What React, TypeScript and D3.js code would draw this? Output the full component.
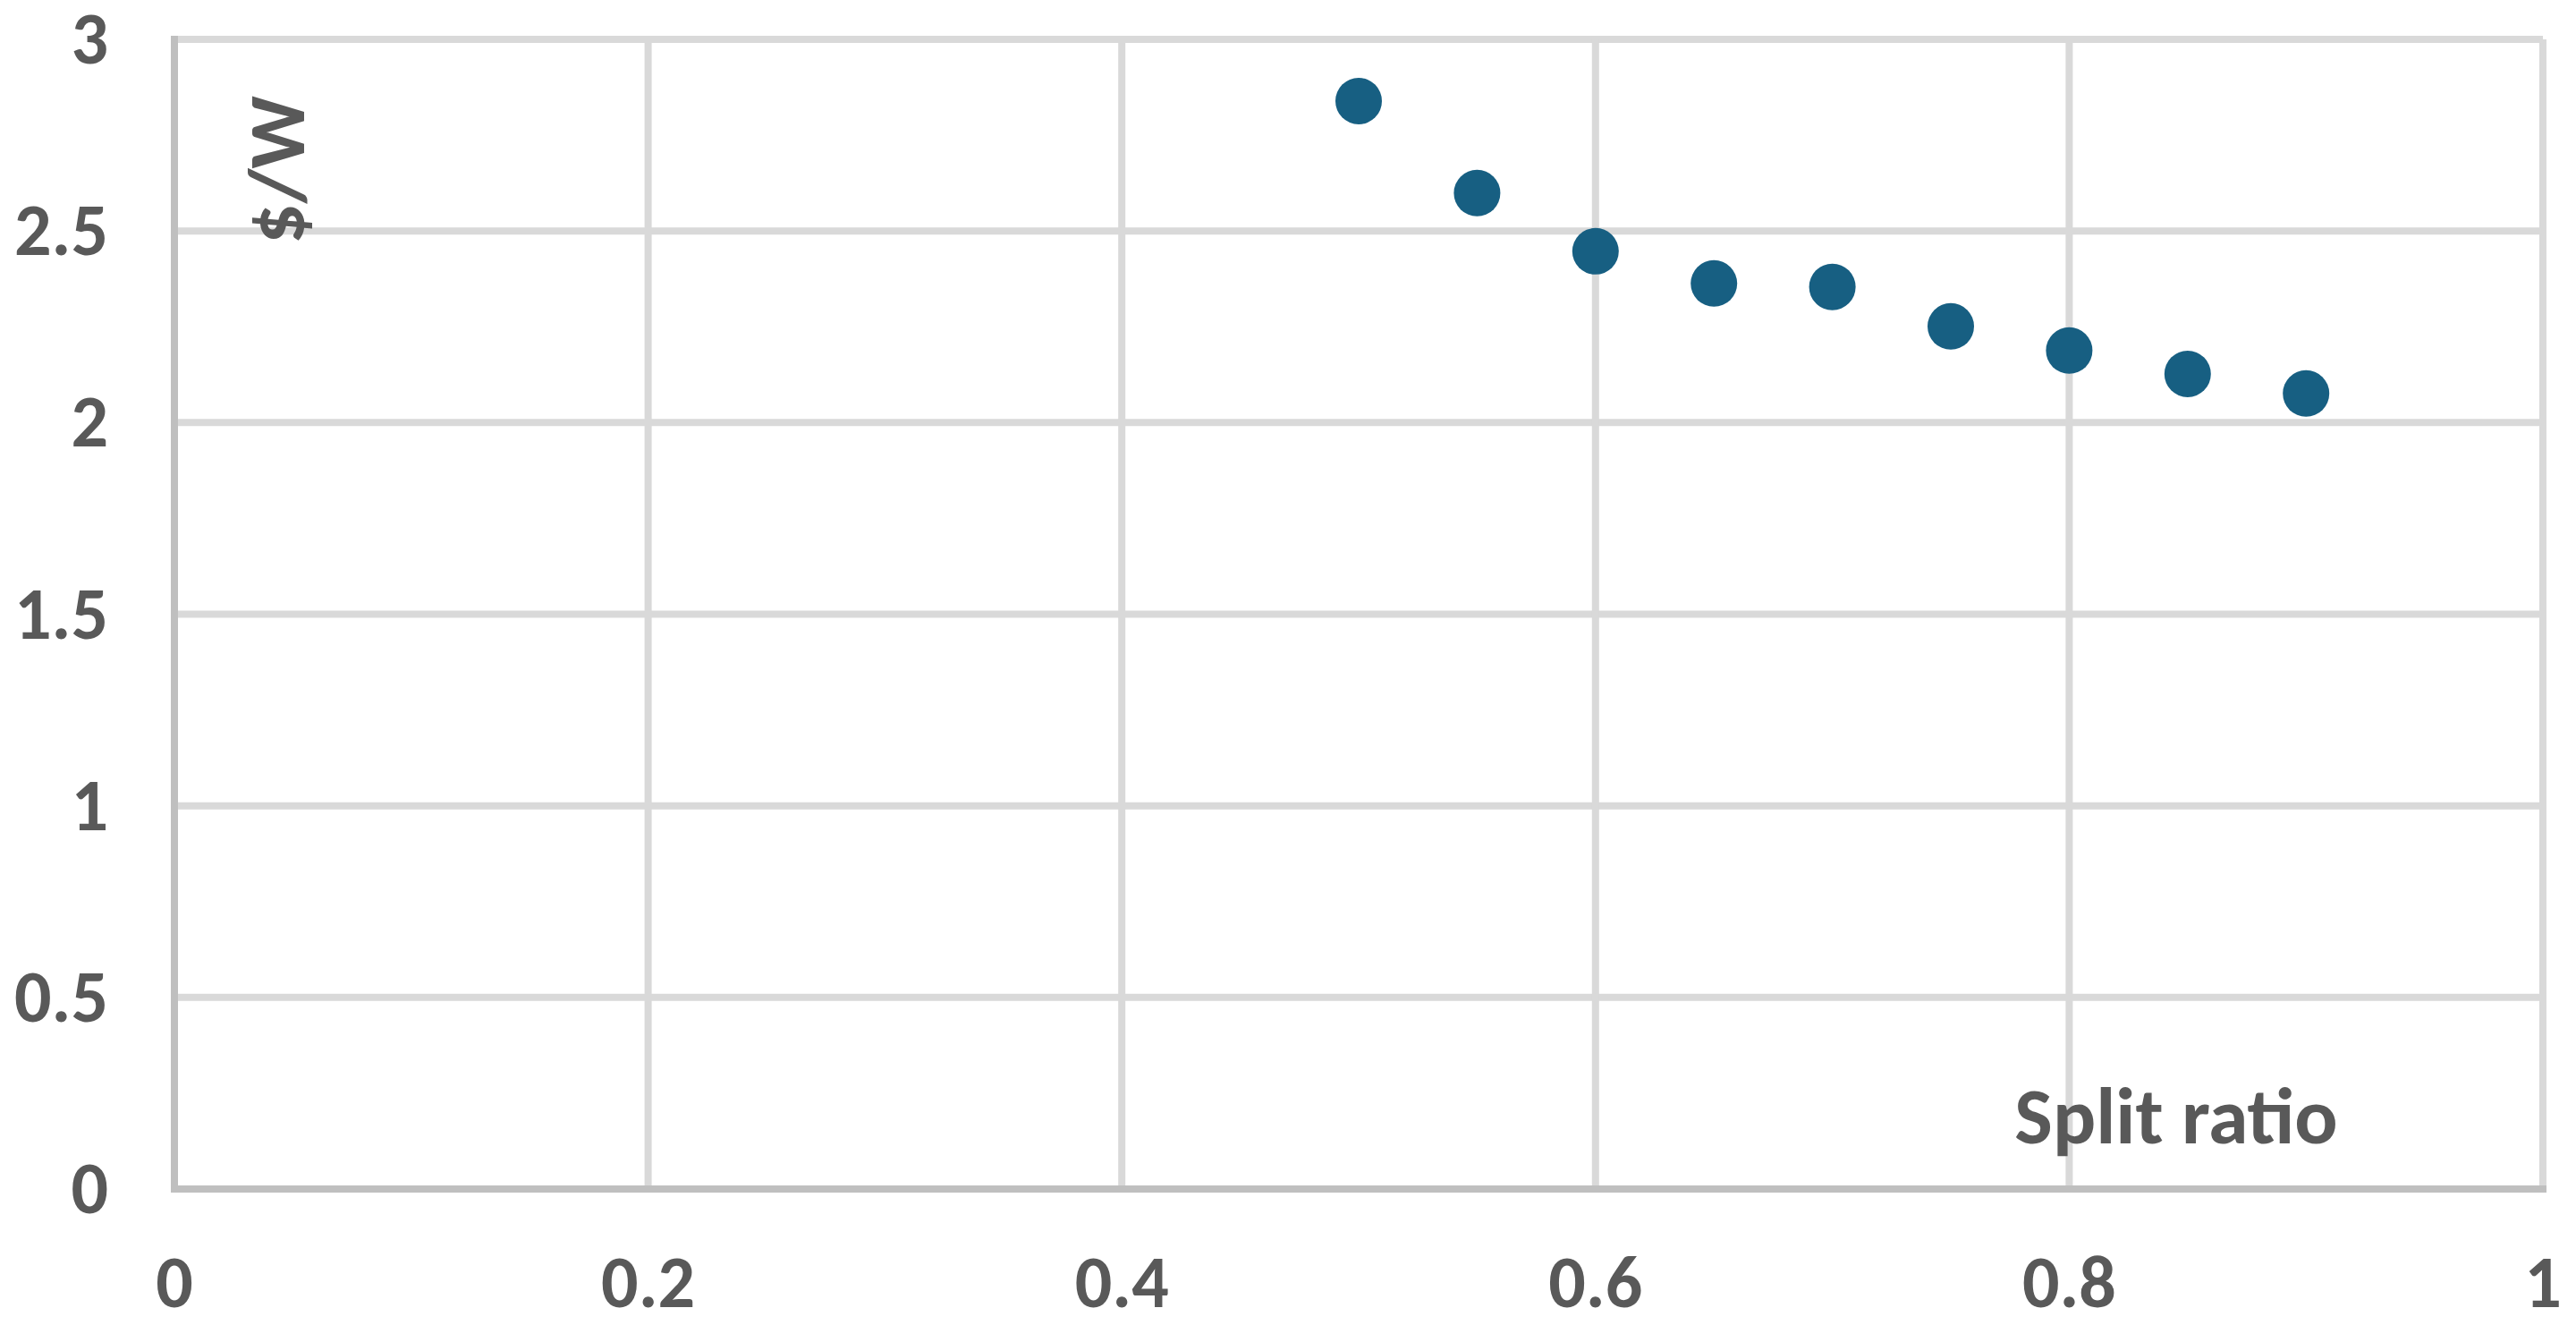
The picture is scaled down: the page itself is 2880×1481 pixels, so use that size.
import * as d3 from 'd3';
import React, { useEffect, useRef } from 'react';

const splitRatio = [0.5, 0.55, 0.6, 0.65, 0.7, 0.75, 0.8, 0.85, 0.9];
const costPerWatt = [2.839, 2.599, 2.447, 2.363, 2.354, 2.251, 2.188, 2.127, 2.076];
const xTicks = [0, 0.2, 0.4, 0.6, 0.8, 1];
const yTicks = [0, 0.5, 1, 1.5, 2, 2.5, 3];

const App: React.FC = () => {
  const ref = useRef<SVGSVGElement>(null);

  useEffect(() => {
    if (!ref.current) return;
    document.body.style.margin = '0';

    const width = 2880;
    const height = 1481;
    const left = 195;
    const right = 2843;
    const top = 44;
    const bottom = 1329;
    const font = "Calibri, Carlito, 'Liberation Sans', Arial, sans-serif";
    const textColor = '#595959';

    const svg = d3.select(ref.current);
    svg.selectAll('*').remove();
    svg.attr('width', width).attr('height', height);

    svg.append('rect').attr('width', width).attr('height', height).attr('fill', '#fff');

    const x = d3.scaleLinear().domain([0, 1]).range([left, right]);
    const y = d3.scaleLinear().domain([0, 3]).range([bottom, top]);

    // gridlines
    svg.append('g')
      .selectAll('line')
      .data(yTicks.filter(t => t > 0))
      .enter()
      .append('line')
      .attr('x1', left)
      .attr('x2', right)
      .attr('y1', d => y(d))
      .attr('y2', d => y(d))
      .attr('stroke', '#d9d9d9')
      .attr('stroke-width', 8);

    svg.append('g')
      .selectAll('line')
      .data(xTicks.filter(t => t > 0))
      .enter()
      .append('line')
      .attr('x1', d => x(d))
      .attr('x2', d => x(d))
      .attr('y1', top)
      .attr('y2', bottom)
      .attr('stroke', '#d9d9d9')
      .attr('stroke-width', 8);

    // axis lines
    svg.append('line')
      .attr('x1', left).attr('x2', left)
      .attr('y1', top - 4).attr('y2', bottom + 4)
      .attr('stroke', '#bfbfbf').attr('stroke-width', 8);
    svg.append('line')
      .attr('x1', left - 4).attr('x2', right + 4)
      .attr('y1', bottom).attr('y2', bottom)
      .attr('stroke', '#bfbfbf').attr('stroke-width', 8);

    // tick labels
    svg.append('g')
      .selectAll('text')
      .data(yTicks)
      .enter()
      .append('text')
      .attr('x', 121)
      .attr('y', d => y(d))
      .attr('dy', '0.33em')
      .attr('text-anchor', 'end')
      .attr('font-family', font)
      .attr('font-weight', 'bold')
      .attr('font-size', 82)
      .attr('fill', textColor)
      .text(d => String(d));

    svg.append('g')
      .selectAll('text')
      .data(xTicks)
      .enter()
      .append('text')
      .attr('x', d => x(d))
      .attr('y', 1461)
      .attr('text-anchor', 'middle')
      .attr('font-family', font)
      .attr('font-weight', 'bold')
      .attr('font-size', 82)
      .attr('fill', textColor)
      .text(d => String(d));

    // axis titles
    svg.append('text')
      .attr('transform', 'translate(340,190) rotate(-90)')
      .attr('text-anchor', 'middle')
      .attr('font-family', font)
      .attr('font-weight', 'bold')
      .attr('font-size', 90)
      .attr('fill', textColor)
      .text('$/W');

    svg.append('text')
      .attr('x', 2433)
      .attr('y', 1278)
      .attr('text-anchor', 'middle')
      .attr('font-family', font)
      .attr('font-weight', 'bold')
      .attr('font-size', 90)
      .attr('fill', textColor)
      .text('Split ratio');

    // points
    svg.append('g')
      .selectAll('circle')
      .data(splitRatio.map((r, i) => ({ r, v: costPerWatt[i] })))
      .enter()
      .append('circle')
      .attr('cx', d => x(d.r))
      .attr('cy', d => y(d.v))
      .attr('r', 26)
      .attr('fill', '#175f82');
  }, []);

  return <svg ref={ref} style={{ display: 'block' }} />;
};

export default App;
